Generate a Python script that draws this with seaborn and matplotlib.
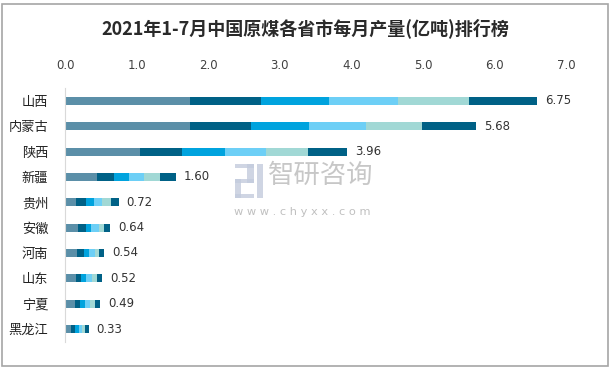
import numpy as np
import matplotlib.pyplot as plt
import seaborn as sns
from matplotlib.patches import Rectangle

# 数据(亿吨), 1-2月合并, 之后逐月
provinces = ["山西", "内蒙古", "陕西", "新疆", "贵州", "安徽", "河南", "山东", "宁夏", "黑龙江"]
jan_feb = [1.74, 1.75, 1.05, 0.44, 0.16, 0.18, 0.17, 0.15, 0.14, 0.09]
mar = [1.00, 0.85, 0.59, 0.25, 0.13, 0.11, 0.10, 0.08, 0.07, 0.05]
apr = [0.95, 0.81, 0.60, 0.20, 0.11, 0.08, 0.07, 0.07, 0.07, 0.05]
may = [0.96, 0.80, 0.57, 0.22, 0.11, 0.10, 0.08, 0.08, 0.07, 0.05]
jun = [0.99, 0.78, 0.59, 0.22, 0.13, 0.08, 0.06, 0.07, 0.07, 0.04]
jul = [0.96, 0.75, 0.54, 0.22, 0.11, 0.08, 0.07, 0.07, 0.07, 0.05]
totals = [6.75, 5.68, 3.96, 1.60, 0.72, 0.64, 0.54, 0.52, 0.49, 0.33]
x_ticks = [0, 1, 2, 3, 4, 5, 6, 7]

colors = ["#5b8fa8", "#006186", "#00a3de", "#6dcff6", "#a1d8d5", "#006186"]

sns.set_style("white")
plt.rcParams["font.family"] = ["Noto Sans CJK SC", "DejaVu Sans"]

fig = plt.figure(figsize=(6.11, 3.70), dpi=100)
ax = fig.add_axes([0.1064, 0.0765, 0.820, 0.685])

# 堆叠: 从累计值最大的一层开始往回画
stack = np.array([jan_feb, mar, apr, may, jun, jul])
cum = np.cumsum(stack, axis=0)
for i in reversed(range(len(stack))):
    sns.barplot(x=cum[i], y=provinces, color=colors[i], width=0.32,
                saturation=1, orient="h", linewidth=0, edgecolor="none", ax=ax)

for i, total in enumerate(totals):
    ax.text(cum[-1][i] + 0.11, i, f"{total:.2f}", va="center", ha="left",
            fontsize=8.5, color="#333333", family="DejaVu Sans")

ax.set_xlim(0, 7)
ax.set_ylim(9.5, -0.5)
ax.set_xticks(x_ticks)
ax.set_xticklabels([f"{t:.1f}" for t in x_ticks], fontsize=8.5, color="#404040",
                   family="DejaVu Sans")
ax.xaxis.tick_top()
ax.tick_params(axis="x", length=0, pad=12)
ax.tick_params(axis="y", length=0, pad=12, labelsize=9.5, labelcolor="#222222")
ax.set_xlabel("")
ax.set_ylabel("")
for side in ["top", "right", "bottom"]:
    ax.spines[side].set_visible(False)
ax.spines["left"].set_color("#d9d9d9")
ax.spines["left"].set_linewidth(0.8)

fig.text(0.5, 0.924, "2021年1-7月中国原煤各省市每月产量(亿吨)排行榜",
         ha="center", va="center", fontsize=13, fontweight="bold", color="#2a2a2a")

# 水印 (logo + 文字)
wm = "#c3cbdd"
for (x0, y0, w, h) in [(0.385, 0.545, 0.030, 0.012), (0.405, 0.505, 0.010, 0.052),
                       (0.385, 0.505, 0.030, 0.012), (0.385, 0.465, 0.010, 0.052),
                       (0.385, 0.465, 0.030, 0.012), (0.420, 0.465, 0.010, 0.092)]:
    fig.add_artist(Rectangle((x0, y0), w, h, transform=fig.transFigure,
                             facecolor=wm, edgecolor="none", alpha=0.8))
fig.text(0.438, 0.525, "智研咨询", ha="left", va="center", fontsize=19,
         color="#b5b5b5", alpha=0.75)
fig.text(0.383, 0.428, "w w w . c h y x x . c o m", ha="left", va="center",
         fontsize=8.2, color="#b5b5b5", alpha=0.85, family="DejaVu Sans")

fig.add_artist(Rectangle((0.004, 0.012), 0.991, 0.978, transform=fig.transFigure,
                         fill=False, edgecolor="#a6a6a6", linewidth=1.2))

fig.savefig("out.png", dpi=100)
